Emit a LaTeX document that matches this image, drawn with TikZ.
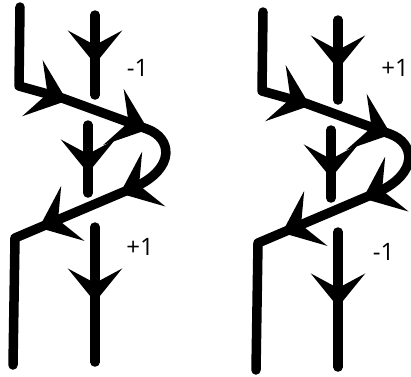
\documentclass[tikz,border=0pt]{standalone}
\usepackage{fontspec}
\setmainfont{Open Sans}
\newcommand\kHead[3]{%
  \fill[headfill, shift={(#1)}, rotate=#2, scale=#3]
    (0,0) .. controls (-16,-12.5) .. (-32,-26) -- (-18,0) -- (-32,26) .. controls (-16,12.5) .. (0,0) -- cycle;
}
\begin{document}
\begin{tikzpicture}[x=1pt,y=-1pt,
  strand/.style={line width=9.5pt, line cap=round, line join=round},
  headfill/.style={fill=black},
  lbl/.style={font=\fontsize{24}{24}\selectfont, inner sep=0pt},
  pics/knot/.style={code={
    % main strand
    \coordinate (-a1) at (20,7);
    \coordinate (-a2) at (19,86);
    \coordinate (-a3) at (62,98);
    \coordinate (-a4) at (147,129);
    \coordinate (-a5) at (135,187);
    \coordinate (-a6) at (15,238);
    \coordinate (-a7) at (13,365);
    % middle strand pieces
    \coordinate (-b1) at (95,15);  \coordinate (-b2) at (95,95);
    \coordinate (-c1) at (88,125); \coordinate (-c2) at (88,193);
    \coordinate (-d1) at (95,227); \coordinate (-d2) at (95,362);
    \draw[strand] (-a1) -- (-a2) -- (-a3) -- (-a4)
      .. controls (172,138) and (176,168) .. (-a5) -- (-a6) -- (-a7);
    \draw[strand] (-b1) -- (-b2);
    \draw[strand] (-c1) -- (-c2);
    \draw[strand] (-d1) -- (-d2);
    % arrowheads (tip position, direction angle, size)
    \kHead{95,64}{-90}{1.05}
    \kHead{88,173}{-90}{1.05}
    \kHead{95,302}{-90}{1.05}
    \kHead{67,100.7}{-20}{1.15}
    \kHead{148,129.5}{-20}{1.15}
    \kHead{120,193.4}{203}{1.15}
    \kHead{39,227.8}{203}{1.15}
  }}]
\useasboundingbox (0,0) rectangle (411,376);
\pic (L) at (0,0) {knot};
\pic (R) at (243,5) {knot};
\node[lbl] (Ltop) at (137.5,67.5) {-1};
\node[lbl] (Lbot) at (140,247) {+1};
\node[lbl] (Rtop) at (395,68) {+1};
\node[lbl] (Rbot) at (383.5,252) {-1};
\end{tikzpicture}
\end{document}
